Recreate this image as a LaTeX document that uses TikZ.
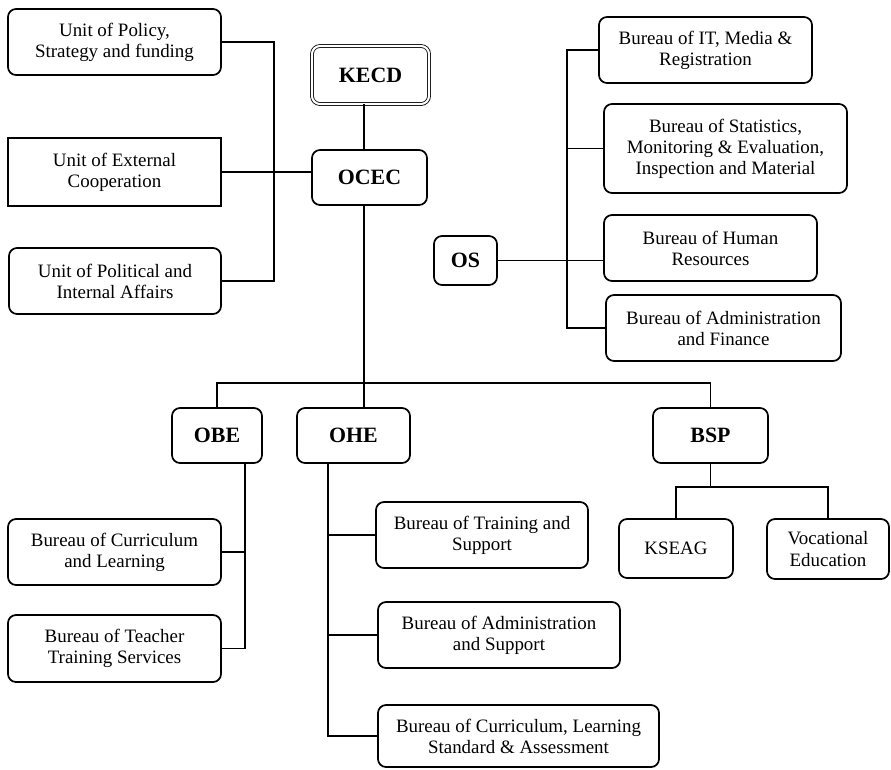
\documentclass[tikz,border=0pt]{standalone}
\usepackage{fontspec}
\setmainfont{Liberation Serif}
\usepackage{tikz}
\usetikzlibrary{positioning}
\tikzstyle{unit}      = [rectangle, rounded corners=6pt, draw=black, line width=1.3pt, text centered, inner sep=2pt, font=\fontsize{14.2}{15.8}\selectfont]
\tikzstyle{squarebox} = [unit, sharp corners]
\tikzstyle{office}    = [unit, font=\fontsize{16.4}{19}\selectfont\bfseries]
\tikzstyle{link}      = [line width=1.3pt]
\tikzset{every node/.style={align=center}}
\tikzset{wh/.style 2 args={minimum width=#1*0.75pt, minimum height=#2*0.75pt}}

\begin{document}
\begin{tikzpicture}[x=0.75pt, y=-0.75pt]
    \useasboundingbox (0,0) rectangle (891,769);

    % offices
    \node (kecd)  [office, wh={117}{58}, double, double distance=1.6pt, line width=0.6pt] at (370.5,75) {KECD};
    \node (ocec)  [office, wh={115}{55}] at (369.5,177.5) {OCEC};
    \node (os)    [office, wh={63}{49}]  at (465.5,260.5) {OS};
    \node (obe)   [office, wh={90}{55}]  at (217,435.5)   {OBE};
    \node (ohe)   [office, wh={113}{55}] at (353.5,435.5) {OHE};
    \node (bsp)   [office, wh={115}{55}] at (710.5,435.5) {BSP};

    % units
    \node (pol)   [unit, wh={213}{66}]      at (114.5,42)  {Unit of Policy,\\Strategy and funding};
    \node (ext)   [squarebox, wh={213}{68}] at (114.5,172) {Unit of External\\Cooperation};
    \node (polit) [unit, wh={212}{66}]      at (115,281)   {Unit of Political and\\Internal Affairs};

    % bureaus under OS
    \node (bit)   [unit, wh={213}{66}] at (705.5,50)  {Bureau of IT, Media \&\\Registration};
    \node (bstat) [unit, wh={243}{89}] at (725.5,148.5) {Bureau of Statistics,\\Monitoring \& Evaluation,\\Inspection and Material};
    \node (bhr)   [unit, wh={213}{66}] at (710.5,248) {Bureau of Human\\Resources};
    \node (baf)   [unit, wh={235}{66}] at (723.5,328) {Bureau of Administration\\and Finance};

    % bureaus under OBE and OHE
    \node (bcl)   [unit, wh={213}{66}] at (114.5,552)   {Bureau of Curriculum\\and Learning};
    \node (btt)   [unit, wh={213}{67}] at (114.5,648.5) {Bureau of Teacher\\Training Services};
    \node (bts)   [unit, wh={212}{66}] at (482,535)     {Bureau of Training and\\Support};
    \node (bas)   [unit, wh={242}{66}] at (499,635)     {Bureau of Administration\\and Support};
    \node (bcls)  [unit, wh={281}{62}] at (518.5,736)   {Bureau of Curriculum, Learning\\Standard \& Assessment};

    % under BSP
    \node (kseag) [unit, wh={114}{59}] at (676,548.5) {KSEAG};
    \node (voc)   [unit, wh={122}{60}] at (828,549)   {Vocational\\Education};

    % connectors
    \coordinate (spine)  at (364,0);
    \coordinate (utrunk) at (274,0);
    \coordinate (otrunk) at (567,0);
    \coordinate (bus)    at (364,383);
    \coordinate (btrunk) at (245,0);
    \coordinate (htrunk) at (328,0);
    \coordinate (pbus)   at (711,487);

    \draw [link] (kecd.south -| spine) -- (ocec.north -| spine);
    \draw [link] (pol.east) -| (utrunk |- polit.east) -- (polit.east);
    \draw [link] (ext.east) -- (ext.east -| ocec.west);

    \draw [link] (bit.west) -| (otrunk |- baf.west) -- (baf.west);
    \draw [link] (otrunk |- bstat.west) -- (bstat.west);
    \draw [link] (os.east) -- (os.east -| bhr.west);

    \draw [link] (ocec.south -| spine) -- (ohe.north -| spine);
    \draw [link] (obe.north) |- (bus) -| (bsp.north);

    \draw [link] (obe.south -| btrunk) |- (btt.east);
    \draw [link] (bcl.east) -- (bcl.east -| btrunk);

    \draw [link] (ohe.south -| htrunk) |- (bcls.west);
    \draw [link] (htrunk |- bts.west) -- (bts.west);
    \draw [link] (htrunk |- bas.west) -- (bas.west);

    \draw [link] (bsp.south) -- (bsp.south |- pbus);
    \draw [link] (kseag.north) |- (pbus) -| (voc.north);
\end{tikzpicture}
\end{document}
